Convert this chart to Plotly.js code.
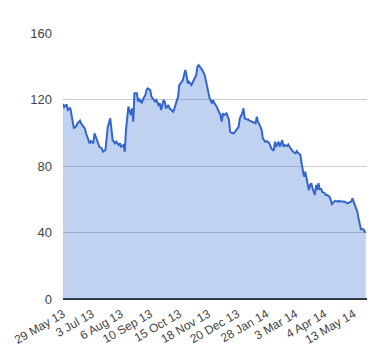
<!DOCTYPE html>
<html>
<head>
<meta charset="utf-8">
<script src="https://cdn.plot.ly/plotly-3.0.1.min.js"></script>
<style>html,body{margin:0;padding:0;background:#fff;}#chart{width:380px;height:360px;}</style>
</head>
<body>
<div id="chart"></div>
<script>
// trading-day index (0 = 29 May 13)
const dayIndex = [0,1,3,4,6,7,8,9,11,12,14,15,17,18,19,21,22,23,25,26,28,29,30,32,33,35,36,37,39,40,41,43,44,46,47,48,50,51,52,54,55,56,57,58,59,
61,62,63,65,66,68,69,70,72,73,74,76,77,79,80,81,83,84,85,87,88,90,91,92,94,95,96,98,99,101,102,103,104,106,107,108,110,111,112,114,115,117,118,119,120,121,
123,124,125,127,128,130,131,132,133,135,136,137,138,139,141,143,145,146,148,149,150,152,153,154,156,157,159,160,161,163,164,165,167,168,170,171,172,174,175,176,178,179,181,182,183,185,186,187,
189,190,192,193,194,196,197,198,199,200,201,202,203,204,205,206,208,209,210,211,212,213,214,216,217,218,220,221,222,224,225,227,228,229,231,232,234,235,236,238,239,240,241,243,244,245,246,248,249,250,251];
const price = [117.3,115.5,117,113.7,115,110.7,107.7,102.7,104,105.7,107.3,105.5,103.5,102.7,99.7,95.6,93.6,95,93.6,99.7,95.6,93.6,91.6,90.6,88.6,89.6,95.6,103.6,108.7,103.6,95.6,93.6,94.6,92.6,93.6,91.6,92.6,88.6,101.7,115.7,113.7,110.7,114.7,106.7,123.7,
123.7,118.7,120.5,117.7,120,122.7,125.7,126.7,125.7,121.7,120.5,118.7,119.7,116.7,117.7,113.7,119.7,118.7,114.7,116.7,114.7,113.7,112.7,114.7,118.7,121.7,128.7,130.7,131.7,137.7,134.7,129.7,130.7,128.7,130.7,131.7,134.7,139.7,140.7,138.7,137.7,134.7,130.7,126.7,124.7,121,
117.7,119.7,117.7,115.7,113.7,110.7,106.7,111.7,110.7,111.7,109.7,107.7,100.6,100,99.6,101.6,103.6,108.7,111.7,114.7,108.7,108,108,107.2,106.7,106,105.7,109.7,106.7,103.6,101.6,96.6,94.6,95,94,92.6,90.6,89.2,94.6,91.6,94.6,91.6,95.6,91.6,92.6,92,93,
91.6,89.6,88.6,87.6,89,88,86.6,81.6,76.6,73.6,76.6,72.6,70.6,65.6,68.6,69.6,66.6,62.6,68.6,65.6,69.6,65.6,66.6,64.5,63.6,62.6,62.6,61.6,59.6,57.1,58.6,59.1,58.6,59.1,58.6,58.6,58.6,58,57.5,58,58.6,60.5,58.6,55.9,52.5,48.5,44.5,41.9,41.9,40.5,40.5];
const tickPositions = [0,24,48,72,96,120,144,168,192,216,240];
const tickLabels = ["29 May 13","3 Jul 13","6 Aug 13","10 Sep 13","15 Oct 13","18 Nov 13","20 Dec 13","28 Jan 14","3 Mar 14","4 Apr 14","13 May 14"];
const yTicks = [0,40,80,120,160];

const trace = {
  x: dayIndex, y: price, type: 'scatter', mode: 'lines',
  line: {color: '#3366cc', width: 2},
  fill: 'tozeroy', fillcolor: 'rgba(51,102,204,0.3)',
  hoverinfo: 'y'
};
const layout = {
  width: 380, height: 360,
  margin: {l: 63, r: 13, t: 33, b: 61},
  paper_bgcolor: '#fff', plot_bgcolor: '#fff',
  showlegend: false,
  font: {family: 'Arial, "Liberation Sans", sans-serif', size: 13, color: '#444'},
  xaxis: {
    range: [0, 251], tickmode: 'array', tickvals: tickPositions, ticktext: tickLabels,
    tickangle: -30, showgrid: false, zeroline: false, showline: false, ticks: '',
    ticklabelstandoff: 5,
    tickfont: {size: 12, color: '#444'}, fixedrange: true
  },
  yaxis: {
    range: [0, 160], tickmode: 'array', tickvals: yTicks,
    showgrid: true, gridcolor: '#cccccc', gridwidth: 1,
    zeroline: true, zerolinecolor: '#333333', zerolinewidth: 1.5,
    showline: false, ticks: '', ticklabelstandoff: 10,
    tickfont: {size: 13, color: '#444'}, fixedrange: true
  }
};
Plotly.newPlot('chart', [trace], layout, {displayModeBar: false, staticPlot: true});
</script>
</body>
</html>
